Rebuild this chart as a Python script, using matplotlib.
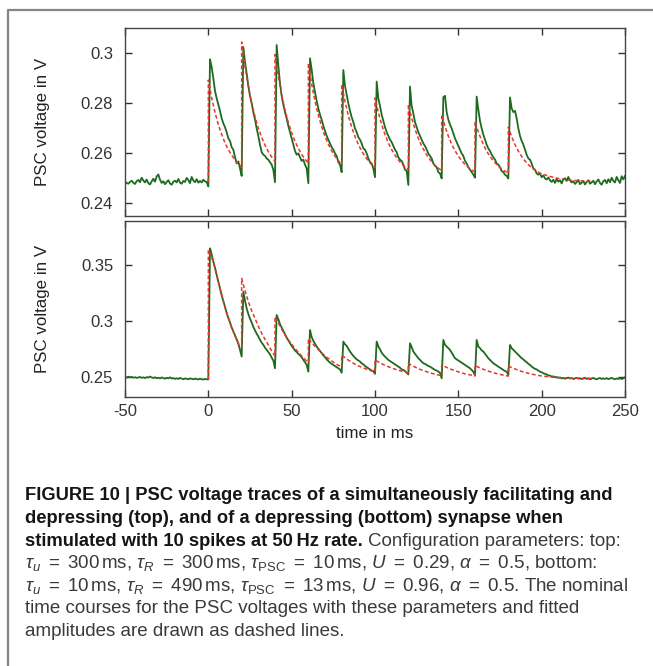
import matplotlib.pyplot as plt
import numpy as np
from matplotlib.lines import Line2D

plt.rcParams['font.family'] = ['Liberation Sans', 'DejaVu Sans']
plt.rcParams['mathtext.fontset'] = 'custom'
plt.rcParams['mathtext.rm'] = 'Liberation Sans'
plt.rcParams['mathtext.it'] = 'Liberation Sans:italic'
plt.rcParams['mathtext.bf'] = 'Liberation Sans:bold'

# measured traces, one value per ms from -50 to 250 ms (in mV)
t_first, t_last = -50, 250
spike_times = [0, 20, 40, 60, 80, 100, 120, 140, 160, 180]

green_top = [
    248.8, 248.2, 247.9, 248.6, 249.1, 248.3, 247.8, 248.9, 249.4, 248.5,
    250.3, 249.2, 248.4, 249.6, 248.1, 247.6, 248.8, 249.9, 248.7, 250.8,
    251.6, 249.5, 248.2, 248.9, 247.7, 248.6, 249.3, 248.0, 247.5, 248.7,
    249.1, 248.4, 249.8, 248.3, 247.9, 249.0, 248.6, 250.2, 249.4, 248.1,
    250.6, 249.2, 248.5, 249.7, 248.3, 249.0, 248.4, 249.5, 248.8, 248.6,
    246.8, 297.6, 294.5, 290.0, 285.0, 282.0, 279.5, 277.0, 274.0, 272.0,
    270.5, 268.5, 266.0, 265.0, 262.5, 261.5, 258.5, 256.0, 256.8, 254.0,
    251.0, 302.5, 296.5, 292.0, 287.0, 283.0, 280.0, 276.5, 273.5, 270.0,
    267.0, 263.5, 260.5, 259.5, 259.0, 258.0, 257.5, 256.5, 255.5, 253.5,
    248.5, 303.3, 295.0, 288.0, 283.0, 279.5, 276.5, 274.0, 271.0, 268.5,
    266.0, 263.5, 261.0, 259.5, 260.0, 258.5, 257.0, 257.5, 255.5, 254.0,
    248.1, 298.0, 293.5, 288.0, 284.5, 281.0, 278.0, 275.5, 273.5, 271.0,
    269.0, 267.0, 265.5, 264.0, 262.5, 261.5, 260.0, 259.0, 256.5, 255.5,
    252.5, 293.3, 287.0, 283.5, 280.0, 277.0, 274.5, 272.5, 270.0, 268.5,
    266.5, 265.5, 264.0, 262.0, 261.5, 260.0, 258.0, 256.5, 256.0, 254.0,
    250.5, 288.7, 282.0, 279.0, 275.5, 273.0, 270.5, 268.5, 267.0, 265.5,
    264.5, 263.0, 261.5, 260.5, 258.5, 257.5, 257.0, 255.5, 253.5, 253.0,
    247.4, 286.7, 279.0, 276.0, 272.5, 270.5, 268.5, 267.0, 265.5, 264.0,
    263.0, 261.5, 260.0, 259.0, 258.0, 256.0, 255.0, 254.5, 252.5, 252.0,
    250.0, 282.5, 283.0, 276.5, 273.5, 271.5, 270.0, 268.0, 266.0, 264.5,
    263.0, 261.5, 260.0, 259.0, 257.0, 256.0, 254.5, 253.5, 252.5, 251.5,
    250.3, 282.7, 277.5, 273.0, 270.0, 267.5, 265.5, 263.5, 262.0, 261.0,
    259.5, 258.5, 257.5, 256.0, 255.5, 254.5, 253.0, 252.5, 251.5, 251.0,
    250.0, 282.4, 278.0, 276.5, 277.0, 274.0, 270.0, 267.0, 265.0, 263.5,
    261.5, 259.5, 258.0, 257.5, 256.0, 254.0, 253.5, 252.0, 251.5, 252.0,
    250.5, 251.2, 250.0, 249.6, 250.4, 249.2, 248.6, 249.5, 248.2, 249.8,
    248.7, 249.3, 248.0, 249.6, 250.1, 249.0, 250.6, 249.2, 248.4, 248.9,
    247.8, 248.5, 249.4, 247.7, 248.3, 249.0, 247.6, 248.6, 249.3, 247.9,
    248.4, 249.1, 247.7, 248.8, 249.6, 248.2, 247.5, 248.9, 249.4, 248.1,
    249.7, 248.5, 250.3, 249.0, 248.4, 250.6, 249.3, 248.2, 250.9, 249.6,
    251.0,
]

green_bottom = [
    249.6, 249.2, 250.0, 249.4, 249.8, 249.1, 249.5, 248.9, 249.3, 249.7,
    249.0, 249.4, 248.7, 249.6, 249.2, 250.1, 249.3, 248.8, 249.5, 248.6,
    249.1, 248.4, 249.3, 248.7, 248.2, 249.0, 248.5, 249.4, 248.3, 248.8,
    248.0, 248.6, 247.9, 248.9, 248.3, 247.7, 248.4, 248.1, 247.6, 248.5,
    248.0, 247.7, 248.3, 247.9, 247.5, 248.2, 247.8, 247.4, 248.0, 247.6,
    247.5, 364.9, 359.5, 353.0, 347.5, 341.0, 335.0, 329.0, 323.0, 317.5,
    312.5, 307.0, 302.5, 298.5, 294.0, 290.5, 287.0, 283.5, 279.5, 274.0,
    268.0, 326.1, 318.0, 311.0, 306.0, 302.0, 298.5, 294.5, 291.5, 288.5,
    286.0, 283.0, 280.5, 278.5, 276.0, 274.0, 272.0, 270.0, 267.0, 264.5,
    257.5, 305.2, 301.5, 297.0, 294.0, 291.0, 288.0, 285.0, 282.5, 280.0,
    277.5, 275.5, 273.5, 272.0, 270.5, 269.0, 267.5, 265.0, 263.0, 260.5,
    254.5, 291.8, 285.5, 282.0, 279.5, 277.0, 275.0, 273.0, 271.0, 269.0,
    267.5, 265.5, 264.0, 262.5, 261.5, 260.5, 259.5, 258.5, 257.5, 256.5,
    253.5, 281.4, 279.0, 277.5, 275.0, 272.5, 270.5, 268.5, 267.0, 265.5,
    264.5, 263.5, 262.0, 261.0, 259.5, 258.5, 257.5, 256.5, 255.5, 255.0,
    252.5, 281.4, 277.0, 274.5, 271.5, 269.5, 268.0, 266.5, 265.0, 264.0,
    263.0, 262.0, 261.0, 260.0, 259.0, 258.0, 256.5, 256.0, 255.0, 253.5,
    252.0, 279.9, 276.5, 272.5, 270.5, 268.5, 266.5, 265.0, 263.5, 262.0,
    261.5, 260.5, 259.5, 259.0, 258.0, 257.0, 256.0, 255.5, 254.5, 253.5,
    248.5, 282.9, 278.5, 277.0, 275.5, 274.0, 271.5, 269.0, 266.5, 265.5,
    264.5, 263.5, 262.5, 261.5, 260.5, 259.5, 258.5, 257.5, 256.0, 254.5,
    251.0, 282.9, 277.0, 275.5, 273.5, 272.5, 270.5, 268.5, 266.5, 265.0,
    263.5, 262.0, 261.0, 260.0, 259.0, 258.0, 257.0, 256.0, 255.0, 254.5,
    251.5, 278.4, 275.5, 274.0, 272.5, 271.0, 269.5, 268.0, 266.5, 265.5,
    264.0, 263.0, 261.5, 260.5, 259.0, 258.0, 257.0, 256.5, 255.5, 254.5,
    254.0, 253.0, 252.5, 252.0, 251.0, 251.0, 250.0, 250.3, 249.4, 249.7,
    248.9, 249.3, 248.4, 248.9, 248.1, 248.7, 249.2, 248.3, 248.8, 247.9,
    248.5, 249.0, 248.2, 248.6, 247.8, 248.4, 249.1, 248.0, 248.5, 247.7,
    248.3, 248.9, 248.1, 247.6, 248.4, 248.8, 247.9, 248.5, 248.0, 248.7,
    247.8, 248.3, 248.9, 248.2, 247.7, 248.4, 248.0, 248.6, 247.9, 248.5,
    249.5,
]

# nominal model curves (dashed), sampled after each spike (mV)
red_offsets = [0, 2, 4, 6, 8, 10, 12, 14, 16, 18, 20]
red_tail_offsets = [0, 2, 4, 6, 8, 10, 12, 14, 16, 18, 20, 25, 30, 35, 40, 45, 50]

red_top_start = 248.5
red_top = [
    [289.3, 282.2, 276.4, 271.5, 267.6, 264.2, 261.5, 259.3, 257.4, 255.8, 254.6],
    [304.5, 294.8, 286.8, 280.1, 274.7, 270.1, 266.4, 263.3, 260.7, 258.6, 256.8],
    [299.5, 290.6, 283.3, 277.3, 272.3, 268.2, 264.8, 262.0, 259.6, 257.7, 256.1],
    [296.0, 287.7, 280.9, 275.3, 270.7, 266.8, 263.7, 261.0, 258.9, 257.1, 255.6],
    [287.5, 280.7, 275.1, 270.5, 266.7, 263.6, 260.9, 258.8, 257.0, 255.5, 254.3],
    [282.2, 276.3, 271.5, 267.5, 264.2, 261.5, 259.3, 257.4, 255.8, 254.6, 253.5],
    [279.5, 274.1, 269.7, 266.0, 263.0, 260.5, 258.4, 256.7, 255.3, 254.1, 253.1],
    [275.5, 270.8, 266.9, 263.7, 261.1, 258.9, 257.1, 255.6, 254.4, 253.4, 252.5],
    [272.8, 268.6, 265.1, 262.2, 259.8, 257.9, 256.3, 254.9, 253.8, 252.9, 252.1],
]
red_top_tail = [270.5, 266.7, 263.5, 260.9, 258.8, 257.0, 255.5, 254.3, 253.3,
                252.5, 251.8, 250.8, 250.0, 249.5, 249.2, 249.0, 248.9]

red_bottom_start = 247.5
red_bottom = [
    [363.4, 357.0, 347.0, 335.0, 323.0, 312.0, 302.5, 294.0, 286.5, 279.5, 276.9],
    [338.0, 327.0, 317.2, 309.0, 302.3, 295.0, 288.8, 283.5, 278.4, 273.0, 268.5],
    [303.7, 298.0, 292.5, 287.5, 283.0, 279.0, 275.2, 271.8, 268.5, 265.5, 262.5],
    [284.3, 280.5, 277.2, 274.2, 271.3, 268.7, 266.3, 264.1, 262.0, 260.1, 258.5],
    [269.4, 267.0, 264.8, 263.0, 261.2, 259.7, 258.4, 257.2, 256.1, 255.1, 254.3],
    [265.0, 263.2, 261.6, 260.2, 258.9, 257.7, 256.7, 255.8, 254.9, 254.2, 253.5],
    [262.0, 260.2, 258.6, 257.2, 256.0, 254.9, 253.9, 253.0, 252.2, 251.5, 250.9],
    [260.5, 259.0, 257.6, 256.4, 255.3, 254.3, 253.4, 252.6, 251.9, 251.3, 250.7],
    [260.0, 258.5, 257.2, 256.0, 254.9, 254.0, 253.1, 252.4, 251.7, 251.1, 250.5],
]
red_bottom_tail = [259.6, 258.2, 256.9, 255.7, 254.7, 253.8, 253.0, 252.3, 251.7,
                   251.1, 250.6, 249.8, 249.2, 248.8, 248.6, 248.5, 248.5]

x_ticks = [-50, 0, 50, 100, 150, 200, 250]
top_yticks = [0.24, 0.26, 0.28, 0.30]
top_ylabels = ["0.24", "0.26", "0.28", "0.3"]
bottom_yticks = [0.25, 0.30, 0.35]
bottom_ylabels = ["0.25", "0.3", "0.35"]


def model_curve(start, segments, tail):
    # joins the spike segments; vertical jumps at each spike time
    tt = [spike_times[0]]
    vv = [start]
    for k, seg in enumerate(segments):
        tt += [spike_times[k] + o for o in red_offsets]
        vv += seg
    tt += [spike_times[-1] + o for o in red_tail_offsets]
    vv += tail
    return np.array(tt), np.array(vv) / 1000.0


W, H = 653, 666
fig = plt.figure(figsize=(W / 100, H / 100), dpi=100)
fig.patch.set_facecolor("white")

# frame of the figure box (left and top edges only are in view)
bx, by = 8 / W, 1 - 9.5 / H
fig.add_artist(Line2D([bx, bx, 1.2], [-0.2, by, by], color="#858585", lw=1.6))

ax_top = fig.add_axes([125 / W, 1 - 216 / H, 500 / W, 188 / H])
ax_bot = fig.add_axes([125 / W, 1 - 397 / H, 500 / W, 176.5 / H])

t = np.arange(t_first, t_last + 1)
green_col = "#1e6a1e"
red_col = "#e8352e"

panels = [
    (ax_top, green_top, red_top_start, red_top, red_top_tail,
     (0.235, 0.3101), top_yticks, top_ylabels),
    (ax_bot, green_bottom, red_bottom_start, red_bottom, red_bottom_tail,
     (0.2318, 0.3898), bottom_yticks, bottom_ylabels),
]

for ax, green, r0, rsegs, rtail, ylim, yt, ylab in panels:
    ax.plot(t, np.array(green) / 1000.0, color=green_col, lw=1.3, zorder=2)
    rt, rv = model_curve(r0, rsegs, rtail)
    ax.plot(rt, rv, color=red_col, lw=1.1, dashes=(2.5, 1.6), zorder=3)
    ax.set_xlim(-50, 250)
    ax.set_ylim(*ylim)
    ax.set_xticks(x_ticks)
    ax.set_yticks(yt)
    ax.set_yticklabels(ylab)
    ax.tick_params(direction="in", length=5, width=1, colors="#333333",
                   top=True, right=True, labelsize=12)
    ax.tick_params(axis="y", pad=8.5)
    ax.tick_params(axis="x", pad=5)
    for s in ax.spines.values():
        s.set_color("#444444")
        s.set_linewidth(1.0)
    fig.text(43 / W, 0.5 * (ax.get_position().y0 + ax.get_position().y1),
             "PSC voltage in V", rotation=90, ha="center", va="center",
             fontsize=12.2, color="#222222")

ax_top.tick_params(labelbottom=False)
ax_bot.set_xticklabels([str(v) for v in x_ticks])
fig.text(375 / W, 1 - 434 / H, "time in ms", ha="center", va="center",
         fontsize=12.2, color="#222222")

# caption
r = fig.canvas.get_renderer()
cap_x = 25 / W
line_y = [500.5, 523, 545.5, 568, 590.5, 613, 635.5]
bold_col = "#151515"
reg_col = "#3a3a3a"


def width_px(txt, **kw):
    tmp = fig.text(0, 0, txt, **kw)
    w = tmp.get_window_extent(r).width
    tmp.remove()
    return w


line1 = "FIGURE 10 | PSC voltage traces of a simultaneously facilitating and"
line6 = "time courses for the PSC voltages with these parameters and fitted"
bold_size = 10 * 590 / width_px(line1, fontsize=10, weight="bold")
reg_size = 10 * 558 / width_px(line6, fontsize=10)

bkw = dict(fontsize=bold_size, weight="bold", color=bold_col, va="baseline")
rkw = dict(fontsize=reg_size, color=reg_col, va="baseline")

fig.text(cap_x, 1 - line_y[0] / H, line1, **bkw)
fig.text(cap_x, 1 - line_y[1] / H,
         "depressing (top), and of a depressing (bottom) synapse when", **bkw)
b3 = fig.text(cap_x, 1 - line_y[2] / H,
              "stimulated with 10 spikes at 50\u2009Hz rate.", **bkw)
x3 = (b3.get_window_extent(r).x1 + 0.28 * reg_size * 100 / 72) / W
fig.text(x3, 1 - line_y[2] / H, "Configuration parameters: top:", **rkw)
fig.text(cap_x, 1 - line_y[3] / H,
         r"$\tau_u\ =\ 300\,\mathrm{ms}$, $\tau_R\ =\ 300\,\mathrm{ms}$, "
         r"$\tau_{\mathrm{PSC}}\ =\ 10\,\mathrm{ms}$, $U\ =\ 0.29$, "
         r"$\alpha\ =\ 0.5$, bottom:", **rkw)
fig.text(cap_x, 1 - line_y[4] / H,
         r"$\tau_u\ =\ 10\,\mathrm{ms}$, $\tau_R\ =\ 490\,\mathrm{ms}$, "
         r"$\tau_{\mathrm{PSC}}\ =\ 13\,\mathrm{ms}$, $U\ =\ 0.96$, "
         r"$\alpha\ =\ 0.5$. The nominal", **rkw)
fig.text(cap_x, 1 - line_y[5] / H, line6, **rkw)
fig.text(cap_x, 1 - line_y[6] / H, "amplitudes are drawn as dashed lines.", **rkw)

fig.savefig("out.png", dpi=100, facecolor="white")
